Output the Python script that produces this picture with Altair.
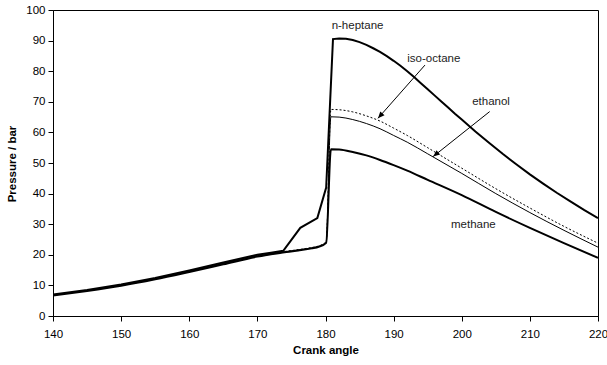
import altair as alt
import pandas as pd

# Cylinder pressure (bar) against crank angle (degrees) for four fuels
hep_angle = [140, 145, 150, 155, 160, 165, 170, 172, 173.8, 176.3, 178.8, 180.1, 181.1,
             182, 183, 184, 185, 186, 187, 188, 189, 190, 191, 192, 193, 194, 195, 196,
             197, 198, 199, 200, 202, 204, 206, 208, 210, 212, 214, 216, 218, 220]
hep_p = [7.0, 8.5, 10.3, 12.4, 14.9, 17.5, 20.0, 20.7, 21.3, 28.8, 32.0, 42.0, 90.5,
         90.7, 90.6, 90.2, 89.5, 88.6, 87.5, 86.3, 84.9, 83.4, 81.8, 80.0, 78.1, 76.1, 74.1, 72.1,
         70.1, 68.1, 66.1, 64.2, 60.3, 56.6, 53.0, 49.6, 46.3, 43.2, 40.2, 37.4, 34.6, 32.0]

oct_angle = [140, 145, 150, 155, 160, 165, 170, 172, 174, 176, 178, 179, 180.1, 180.8,
             182, 184, 186, 188, 190, 192, 195, 200, 205, 210, 215, 220]
oct_p = [6.9, 8.4, 10.1, 12.2, 14.7, 17.2, 19.7, 20.5, 21.1, 21.7, 22.4, 22.9, 24.3, 67.5,
         67.4, 66.7, 65.4, 63.7, 61.4, 59.0, 55.0, 48.3, 41.6, 35.3, 29.3, 23.8]

eth_angle = [140, 145, 150, 155, 160, 165, 170, 172, 174, 176, 178, 179, 180.1, 180.8,
             182, 184, 186, 188, 190, 192, 195, 200, 205, 210, 215, 220]
eth_p = [6.8, 8.3, 10.0, 12.1, 14.6, 17.1, 19.6, 20.4, 21.0, 21.6, 22.3, 22.8, 24.1, 65.1,
         65.0, 64.2, 62.9, 61.2, 59.0, 56.8, 53.0, 46.6, 40.0, 33.8, 28.0, 22.5]

met_angle = [140, 145, 150, 155, 160, 165, 170, 172, 174, 176, 178, 179, 180.1, 180.8,
             182, 184, 186, 188, 190, 192, 195, 200, 205, 210, 215, 220]
met_p = [6.7, 8.2, 9.9, 12.0, 14.4, 16.9, 19.4, 20.2, 20.8, 21.4, 22.1, 22.6, 23.9, 54.5,
         54.4, 53.6, 52.5, 51.0, 49.3, 47.5, 44.5, 39.5, 34.0, 28.8, 23.8, 19.0]

# Curve labels
label_text = ["n-heptane", "iso-octane", "ethanol", "methane"]
label_angle = [184.7, 195.9, 204.3, 201.7]
label_p = [94.8, 84.0, 70.0, 29.7]

# Leader arrows: start (near label) and tip (on curve)
arrow_start_angle = [194.6, 204.1]
arrow_start_p = [82.0, 66.8]
arrow_tip_angle = [187.7, 195.8]
arrow_tip_p = [64.6, 52.1]
arrow_head_rot = [221.6, 230.5]

x_ticks = list(range(140, 221, 10))
y_ticks = list(range(0, 101, 10))

FONT = "Liberation Sans"

x_scale = alt.Scale(domain=[140, 220], nice=False, zero=False)
y_scale = alt.Scale(domain=[0, 100], nice=False)

x_axis = alt.Axis(values=x_ticks, title="Crank angle", ticks=True, tickSize=5,
                  titleX=272.5, titleY=34, titleBaseline="middle", titleAlign="center",
                  labelPadding=7)
y_axis = alt.Axis(values=y_ticks, title="Pressure / bar", ticks=True, tickSize=5,
                  titleX=-41, titleY=153.5, titleAngle=-90, titleBaseline="middle",
                  titleAlign="center", labelPadding=3)


def X(field):
    return alt.X(field, type="quantitative", scale=x_scale, axis=x_axis)


def Y(field):
    return alt.Y(field, type="quantitative", scale=y_scale, axis=y_axis)


def curve(angles, pressures, width, dash=None, interp="monotone"):
    df = pd.DataFrame({"angle": angles, "p": pressures})
    kw = dict(color="black", strokeWidth=width, clip=True, interpolate=interp)
    if dash:
        kw["strokeDash"] = dash
    return alt.Chart(df).mark_line(**kw).encode(x=X("angle"), y=Y("p"))


lines = [
    curve(met_angle, met_p, 2.0),
    curve(eth_angle, eth_p, 1.0),
    curve(oct_angle, oct_p, 1.0, [2, 2]),
    curve(hep_angle, hep_p, 2.0, interp="linear"),
]

labels = alt.Chart(pd.DataFrame({"t": label_text, "a": label_angle, "p": label_p})).mark_text(
    font=FONT, fontSize=11.5, color="#222"
).encode(x=X("a"), y=Y("p"), text="t:N")

arrows_df = pd.DataFrame({
    "a1": arrow_start_angle, "p1": arrow_start_p,
    "a2": arrow_tip_angle, "p2": arrow_tip_p, "rot": arrow_head_rot,
})
shafts = alt.Chart(arrows_df).mark_rule(color="black", strokeWidth=1).encode(
    x=X("a1"), y=Y("p1"), x2="a2:Q", y2="p2:Q",
)
heads = alt.Chart(arrows_df).mark_point(
    shape="M0,0L-0.42,1L0.42,1Z", filled=True, color="black", opacity=1, size=180
).encode(
    x=X("a2"), y=Y("p2"), angle=alt.Angle("rot:Q", scale=None),
)

chart = alt.layer(*lines, shafts, heads, labels).properties(
    width=545, height=306,
    autosize=alt.AutoSizeParams(type="none"),
    padding={"left": 53, "top": 10, "right": 9, "bottom": 49},
    background="white",
).configure_view(
    stroke="black", strokeWidth=1
).configure_axis(
    grid=False, domainColor="black", tickColor="black", tickWidth=1,
    labelOverlap=False, labelFlush=False,
    labelFont=FONT, labelFontSize=11.5, labelColor="black",
    titleFont=FONT, titleFontSize=11.5, titleFontWeight="bold", titleColor="black",
)

chart.save("out.html", embed_options={"renderer": "svg", "actions": False})
